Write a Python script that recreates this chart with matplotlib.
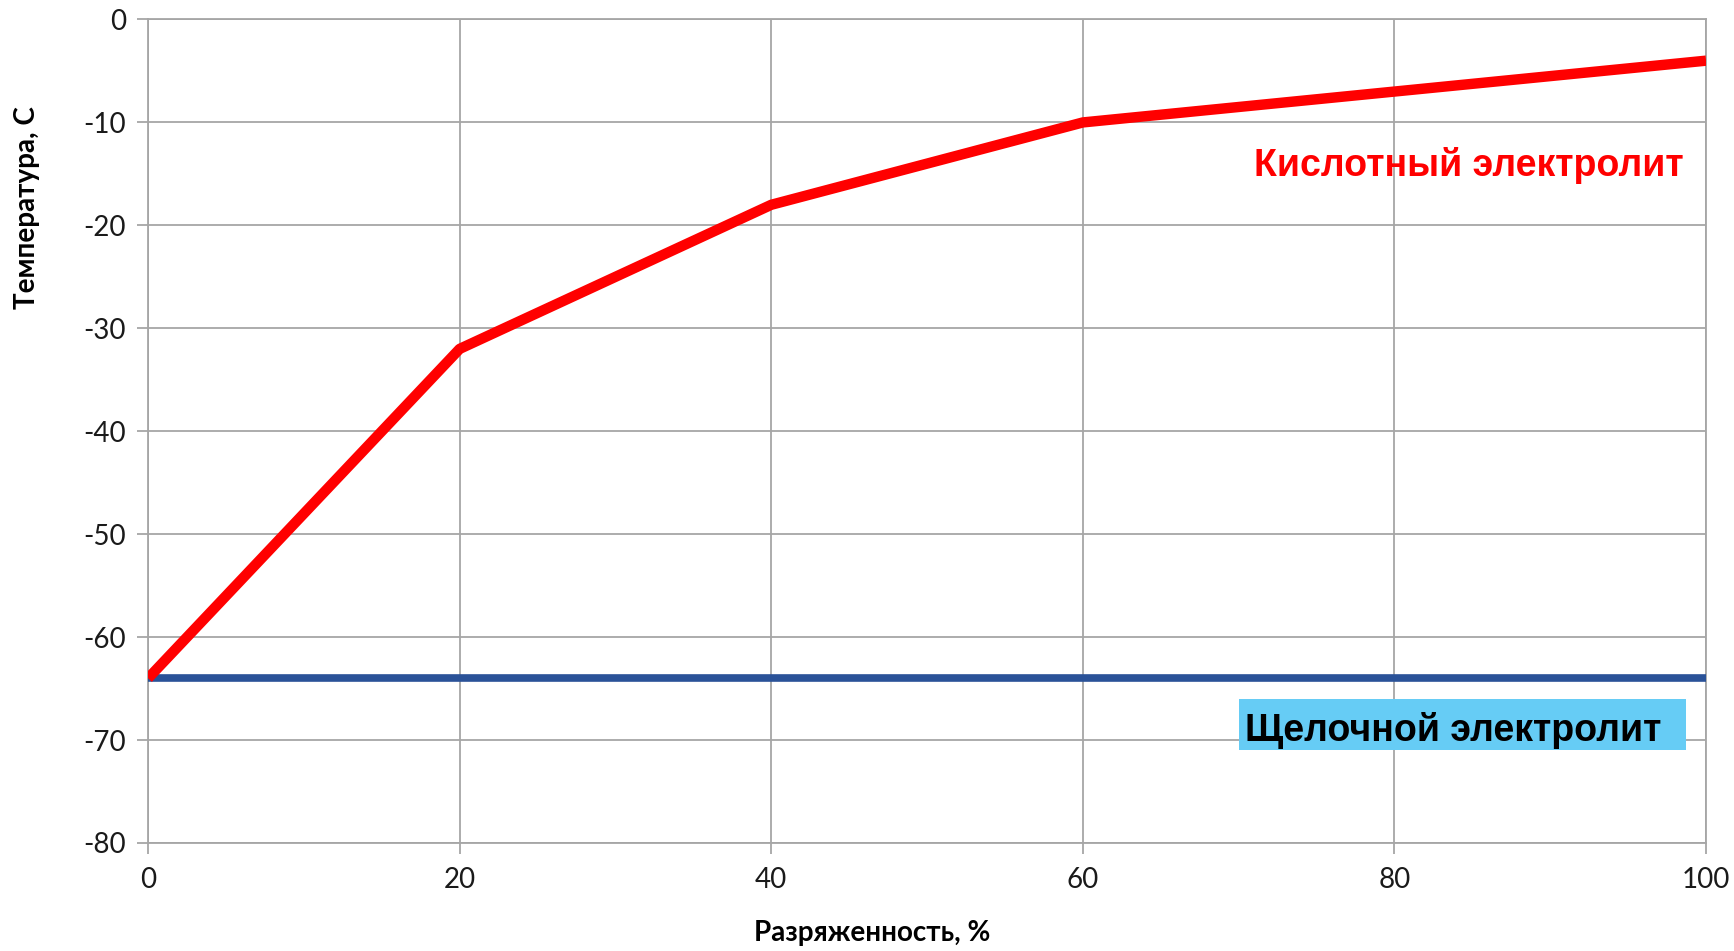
import matplotlib
matplotlib.use("Agg")
import matplotlib.pyplot as plt
from matplotlib.patches import Rectangle

plt.rcParams["axes.unicode_minus"] = False

# Данные
razr = [0, 20, 40, 60, 80, 100]
kislotnyi = [-64, -32, -18, -10, -7, -4]
shchelochnoi = [-64, -64, -64, -64, -64, -64]
xticks = [0, 20, 40, 60, 80, 100]
yticks = [0, -10, -20, -30, -40, -50, -60, -70, -80]

grid_c = "#a6a6a6"

fig = plt.figure(figsize=(17.34, 9.51), dpi=100)
ax = fig.add_axes([0.0854, 0.1136, 0.8985, 0.8659])

ax.plot(razr, shchelochnoi, color="#2a5298", linewidth=5.5, solid_capstyle="butt", zorder=3)
ax.plot(razr, kislotnyi, color="#ff0000", linewidth=7.5, solid_capstyle="butt", zorder=4)

ax.set_xlim(0, 100)
ax.set_ylim(-80, 0)
ax.set_xticks(xticks)
ax.set_yticks(yticks)
ax.grid(True, color=grid_c, linewidth=1.3)
ax.set_axisbelow(True)
for s in ax.spines.values():
    s.set_color(grid_c)
    s.set_linewidth(1.3)
ax.tick_params(axis="both", colors=grid_c, length=8, width=1.3, labelcolor="#1a1a1a",
               labelsize=20)
ax.tick_params(axis="y", pad=8)
ax.tick_params(axis="x", pad=9)
for lab in ax.get_xticklabels() + ax.get_yticklabels():
    lab.set_family("Lato")

# подписи линий
ax.text(71.0, -14.15, "Кислотный электролит", color="#ff0000", fontsize=27,
        fontweight="bold", family="Liberation Sans", va="center", ha="left", zorder=5)
ax.add_patch(Rectangle((70.0, -70.95), 28.7, 4.95, facecolor="#66ccf5",
                       edgecolor="none", zorder=5))
ax.text(70.4, -69.1, "Щелочной электролит", color="black", fontsize=27,
        fontweight="bold", family="Liberation Sans", va="center", ha="left", zorder=6)

# подписи осей
fig.text(27 / 1734, 1 - 208 / 951, "Температура, С", rotation=90, fontsize=20,
         fontweight="bold", family="Lato", ha="center", va="center")
fig.text(872 / 1734, 1 - 933 / 951, "Разряженность, %", fontsize=20,
         fontweight="bold", family="Lato", ha="center", va="center")

fig.savefig("out.png", dpi=100)
